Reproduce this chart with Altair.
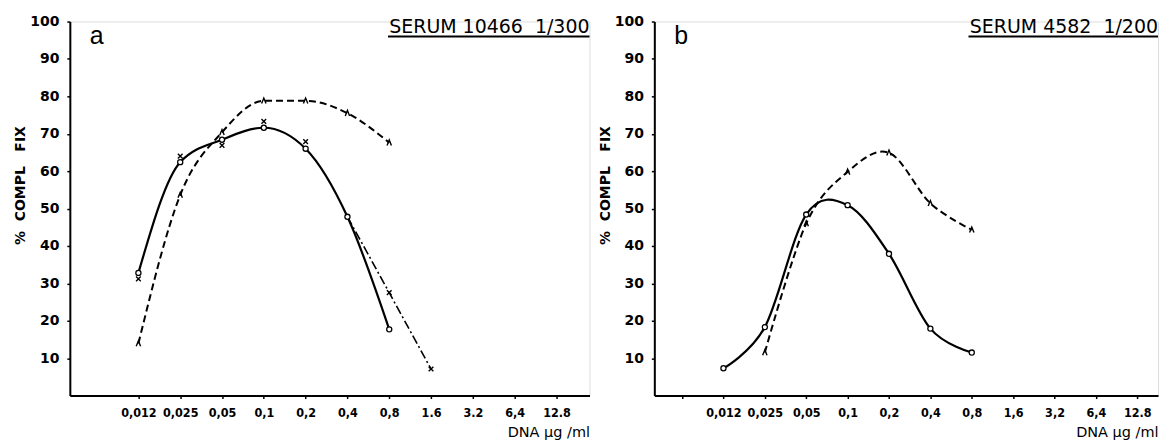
import altair as alt
import pandas as pd

# ---- data -------------------------------------------------------------
x_labels_a = ["0,012", "0,025", "0,05", "0,1", "0,2", "0,4", "0,8", "1.6", "3.2", "6,4", "12.8"]
x_labels_b = ["0,012", "0,025", "0,05", "0,1", "0,2", "0,4", "0,8", "1,6", "3,2", "6,4", "12.8"]

# panel a
a_circle_x = [0, 1, 2, 3, 4, 5, 6]
a_circle_y = [32.8, 62.4, 68.4, 71.6, 66.0, 47.8, 17.7]
a_cross_x = [0, 1, 2, 3, 4, 6, 7]
a_cross_y = [31.2, 64.0, 66.9, 73.3, 67.9, 27.5, 7.1]
a_dashdot_x = [5, 6, 7]
a_dashdot_y = [47.8, 27.5, 7.1]
a_lambda_x = [0, 1, 2, 3, 4, 5, 6]
a_lambda_y = [13.9, 53.6, 70.4, 78.8, 78.8, 75.5, 67.6]

# panel b
b_circle_x = [0, 1, 2, 3, 4, 5, 6]
b_circle_y = [7.3, 18.3, 48.4, 50.9, 37.9, 17.9, 11.5]
b_lambda_x = [1, 2, 3, 4, 5, 6]
b_lambda_y = [11.5, 46.0, 59.8, 64.9, 51.4, 44.3]

NB = "\u00a0"
title_a = "SERUM 10466" + NB * 2 + "1/300"
title_b = "SERUM 4582" + NB * 2 + "1/200"
y_title = "%" + NB * 2 + "COMPL" + NB * 3 + "FIX"

# ---- style ------------------------------------------------------------
FONT = "DejaVu Sans"
FONT_C = "DejaVu Sans Condensed, DejaVu Sans"
H = 375
CROSS = "M-1,-1L1,1M-1,1L1,-1"
CHEV = "M-0.8,1L0,-1L0.8,1"


def make_panel(labels, extra_tick, W, xdom, layers_spec, title, underline_len, letter):
    vals = list(range(len(labels)))
    if extra_tick:
        vals = [-1] + vals
    arr = "[" + ",".join("'" + s + "'" for s in labels) + "]"
    xaxis = alt.Axis(
        values=vals,
        labelExpr="datum.value < 0 ? '' : " + arr + "[datum.value]",
        title="DNA µg /ml",
        titleFont=FONT, titleFontSize=14.5, titleFontWeight="normal",
        titleX=W, titleY=41, titleAlign="right", titleAnchor="end",
        titleBaseline="alphabetic", titleColor="black",
        labelFont=FONT_C, labelFontSize=12.5, labelFontWeight="bold",
        labelColor="black", labelPadding=8, labelFlush=False,
        tickSize=3, tickWidth=1.5, tickColor="black",
        domainColor="black", domainWidth=2, grid=False,
    )
    yaxis = alt.Axis(
        values=list(range(10, 101, 10)),
        title=y_title,
        titleFont=FONT, titleFontSize=14, titleFontWeight="bold",
        titleX=-49, titleY=164, titleAngle=270, titleAlign="center",
        titleBaseline="middle", titleColor="black",
        labelFont=FONT, labelFontSize=14, labelFontWeight="bold",
        labelColor="black", labelPadding=8,
        tickSize=3, tickWidth=1.5, tickColor="black",
        domainColor="black", domainWidth=2, grid=False,
    )
    xs = alt.Scale(domain=xdom, nice=False, zero=False)
    ys = alt.Scale(domain=[0, 100], nice=False)

    layers = []
    for spec in layers_spec:
        df = pd.DataFrame({"idx": spec["x"], "val": spec["y"]})
        enc = dict(x=alt.X("idx:Q", scale=xs, axis=xaxis),
                   y=alt.Y("val:Q", scale=ys, axis=yaxis))
        if spec["kind"] == "line":
            kw = dict(color="black", strokeWidth=spec.get("w", 2),
                      interpolate=spec.get("interp", "linear"))
            if "dash" in spec:
                kw["strokeDash"] = spec["dash"]
            layers.append(alt.Chart(df).mark_line(**kw).encode(**enc))
        elif spec["kind"] == "circle":
            layers.append(alt.Chart(df).mark_point(
                shape="circle", size=26, filled=True, fill="white",
                stroke="black", strokeWidth=1.3, opacity=1).encode(**enc))
        elif spec["kind"] == "cross":
            layers.append(alt.Chart(df).mark_point(
                shape=CROSS, size=22, filled=False, stroke="black",
                strokeWidth=1.4, opacity=1).encode(**enc))
        elif spec["kind"] == "chev":
            layers.append(alt.Chart(df).mark_point(
                shape=CHEV, size=30, filled=False, stroke="black",
                strokeWidth=1.4, opacity=1).encode(**enc))

    tdf = pd.DataFrame({"t": [title]})
    ttl = alt.Chart(tdf).mark_text(
        align="right", baseline="alphabetic", font=FONT, fontSize=19,
        color="black").encode(x=alt.value(W), y=alt.value(11), text="t:N")
    ul = alt.Chart(tdf).mark_rule(color="black", strokeWidth=2.2).encode(
        x=alt.value(W - underline_len), x2=alt.value(W), y=alt.value(15))
    ldf = pd.DataFrame({"t": [letter]})
    let = alt.Chart(ldf).mark_text(
        align="left", baseline="alphabetic", font="Liberation Sans",
        fontSize=25, color="black").encode(
        x=alt.value(20), y=alt.value(22.5), text="t:N")
    return alt.layer(*layers, ttl, ul, let).properties(width=W, height=H)


panel_a = make_panel(
    x_labels_a, False, 521, [-1.64, 10.79],
    [
        {"kind": "line", "x": a_lambda_x, "y": a_lambda_y, "dash": [7, 4], "w": 2, "interp": "monotone"},
        {"kind": "line", "x": a_dashdot_x, "y": a_dashdot_y, "dash": [9, 3, 2, 3], "w": 1.6},
        {"kind": "line", "x": a_circle_x, "y": a_circle_y, "w": 2.2, "interp": "monotone"},
        {"kind": "cross", "x": a_cross_x, "y": a_cross_y},
        {"kind": "chev", "x": a_lambda_x, "y": a_lambda_y},
        {"kind": "circle", "x": a_circle_x, "y": a_circle_y},
    ],
    title_a, 202, "a",
)

panel_b = make_panel(
    x_labels_b, True, 505, [-1.67, 10.5],
    [
        {"kind": "line", "x": b_lambda_x, "y": b_lambda_y, "dash": [7, 4], "w": 2, "interp": "cardinal"},
        {"kind": "line", "x": b_circle_x, "y": b_circle_y, "w": 2.2, "interp": "cardinal"},
        {"kind": "chev", "x": b_lambda_x, "y": b_lambda_y},
        {"kind": "circle", "x": b_circle_x, "y": b_circle_y},
    ],
    title_b, 190, "b",
)

chart = alt.hconcat(panel_a, panel_b, spacing=6).configure_view(stroke=None).configure(background="white")

chart.save("out.html", embed_options={"renderer": "svg", "actions": False})
